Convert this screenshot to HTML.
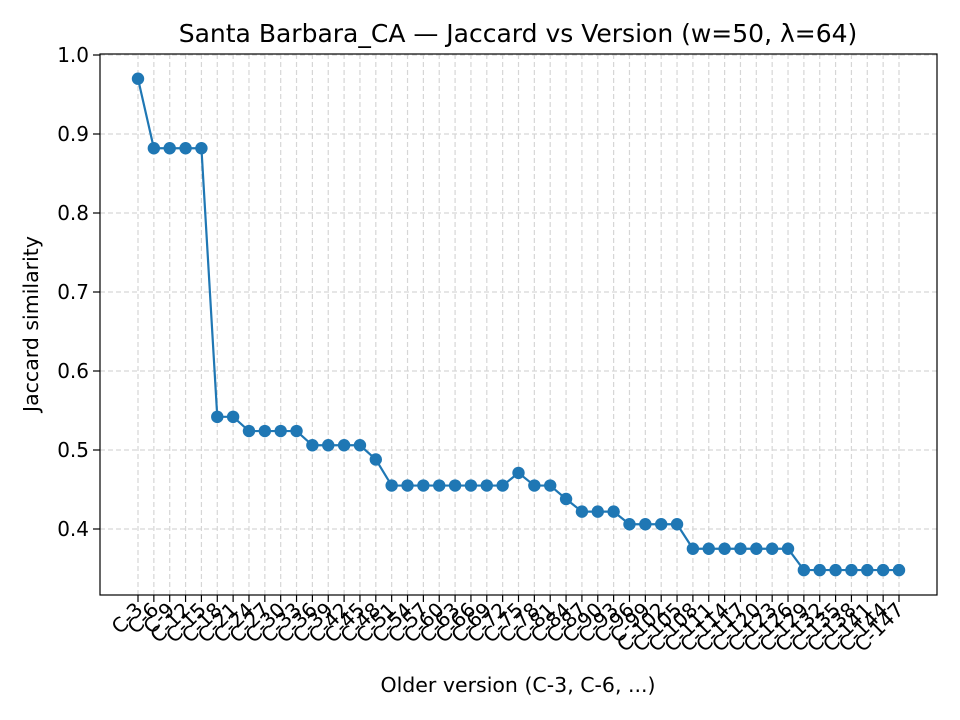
<!DOCTYPE html>
<html><head><meta charset="utf-8"><style>
body{margin:0;background:#fff}
svg{display:block;font-family:"DejaVu Sans","Liberation Sans",sans-serif}
</style></head><body>
<svg id="c" width="960" height="720"></svg>
<script>
const categories=[];for(let i=3;i<=147;i+=3)categories.push('C-'+i);
const values=[0.970,0.882,0.882,0.882,0.882,0.542,0.542,0.524,0.524,0.524,0.524,0.506,0.506,0.506,0.506,0.488,0.455,0.455,0.455,0.455,0.455,0.455,0.455,0.455,0.471,0.455,0.455,0.438,0.422,0.422,0.422,0.406,0.406,0.406,0.406,0.375,0.375,0.375,0.375,0.375,0.375,0.375,0.348,0.348,0.348,0.348,0.348,0.348,0.348];
const yTicks=[0.4,0.5,0.6,0.7,0.8,0.9,1.0];
const L=100,R=937,T=54,B=595;
const x0=138,x1=899;
const xs=i=>x0+(x1-x0)*i/(categories.length-1);
const ys=v=>55+(1-v)*790;
const svg=document.getElementById('c');const NS='http://www.w3.org/2000/svg';
function mk(t,a,p){const e=document.createElementNS(NS,t);for(const k in a)e.setAttribute(k,a[k]);(p||svg).appendChild(e);return e;}
categories.forEach((c,i)=>{const g=mk('line',{x1:xs(i),x2:xs(i),y1:T,y2:B,stroke:'#d6d6d6','stroke-dasharray':'5,3','stroke-width':1.2});

});
yTicks.forEach(v=>{const g=mk('line',{x1:L,x2:R,y1:ys(v),y2:ys(v),stroke:'#d6d6d6','stroke-dasharray':'5,3','stroke-width':1.2});


mk('line',{x1:L-7,x2:L,y1:ys(v),y2:ys(v),stroke:'#000','stroke-width':1.2});
const t=mk('text',{x:L-11,y:ys(v)+7,'text-anchor':'end','font-size':20});t.textContent=v.toFixed(1);

});
categories.forEach((c,i)=>{mk('line',{x1:xs(i),x2:xs(i),y1:B,y2:B+7,stroke:'#000','stroke-width':1.2});
const t=mk('text',{x:0,y:0,'text-anchor':'end','font-size':20,transform:`translate(${xs(i)+6},${B+16}) rotate(-45)`});t.textContent=c;

});
const pl=mk('polyline',{points:values.map((v,i)=>xs(i)+','+ys(v)).join(' '),fill:'none',stroke:'#1f77b4','stroke-width':2.2});


values.forEach((v,i)=>{const p=mk('circle',{cx:xs(i),cy:ys(v),r:6.2,fill:'#1f77b4'});

});
const fr=mk('rect',{x:L,y:T,width:R-L,height:B-T,fill:'none',stroke:'#000','stroke-width':1.2});


const ti=mk('text',{x:518,y:42,'text-anchor':'middle','font-size':25});ti.textContent='Santa Barbara_CA — Jaccard vs Version (w=50, λ=64)';


const xt=mk('text',{x:518,y:692,'text-anchor':'middle','font-size':20.5});xt.textContent='Older version (C-3, C-6, ...)';


const yt=mk('text',{x:0,y:0,'text-anchor':'middle','font-size':20.5,transform:'translate(38,324) rotate(-90)'});yt.textContent='Jaccard similarity';


</script>
</body></html>
